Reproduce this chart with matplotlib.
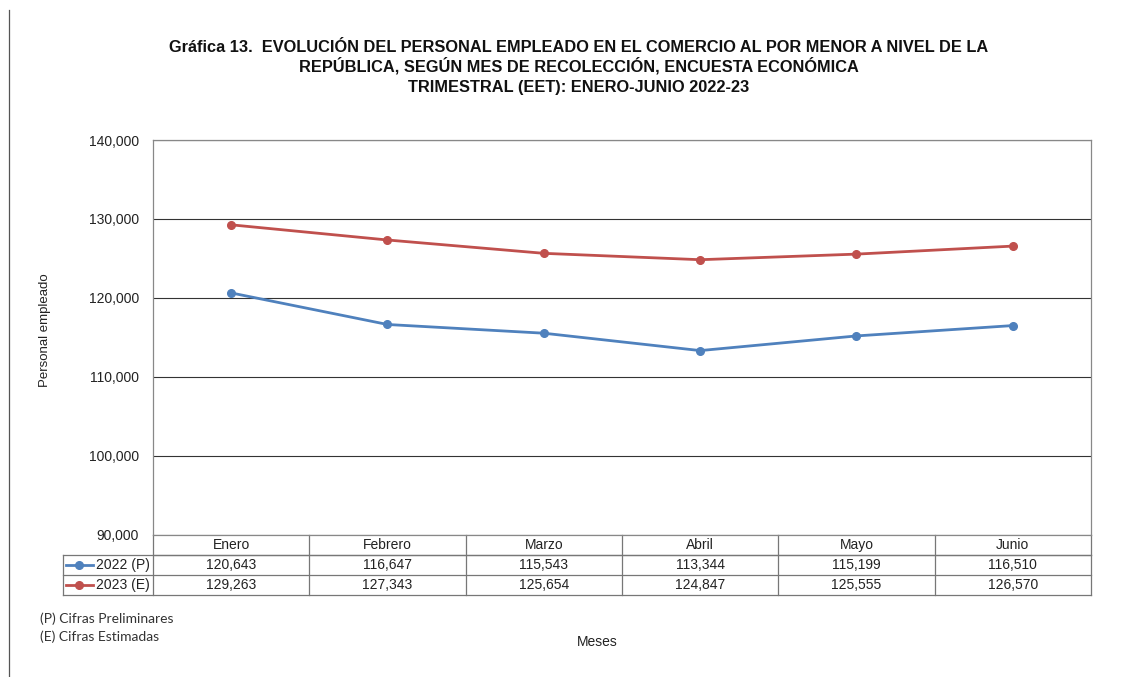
import numpy as np
import matplotlib
matplotlib.use('Agg')
import matplotlib.pyplot as plt
import matplotlib.transforms as mtransforms

plt.rcParams['font.family'] = ['Liberation Sans', 'DejaVu Sans']

months = ['Enero', 'Febrero', 'Marzo', 'Abril', 'Mayo', 'Junio']
values_2022 = [120643, 116647, 115543, 113344, 115199, 116510]
values_2023 = [129263, 127343, 125654, 124847, 125555, 126570]
series_names = ['2022 (P)', '2023 (E)']
series_colors = ['#4F81BD', '#C0504D']
y_ticks = [90000, 100000, 110000, 120000, 130000, 140000]
title_lines = ['Gráfica 13.  EVOLUCIÓN DEL PERSONAL EMPLEADO EN EL COMERCIO AL POR MENOR A NIVEL DE LA',
               'REPÚBLICA, SEGÚN MES DE RECOLECCIÓN, ENCUESTA ECONÓMICA',
               'TRIMESTRAL (EET): ENERO-JUNIO 2022-23']

W, H = 1127, 677
fig = plt.figure(figsize=(W / 100, H / 100), dpi=100)

ax_left, ax_right, ax_top, ax_bottom = 153, 1091, 140, 535
ax = fig.add_axes([ax_left / W, 1 - ax_bottom / H,
                   (ax_right - ax_left) / W, (ax_bottom - ax_top) / H])

x = np.arange(len(months))
for vals, col in zip([values_2022, values_2023], series_colors):
    ax.plot(x, vals, color=col, lw=2.0, marker='o', ms=5.5, zorder=3)

ax.set_xlim(-0.5, len(months) - 0.5)
ax.set_ylim(90000, 140000)
ax.set_yticks(y_ticks)
ax.set_yticklabels([f'{v:,}' for v in y_ticks], fontsize=10, color='#222222')
ax.set_xticks([])
ax.tick_params(axis='y', length=0, pad=10)
ax.yaxis.grid(True, color='#333333', lw=0.8)
ax.set_axisbelow(True)
for s in ax.spines.values():
    s.set_color('#888888')
    s.set_linewidth(0.9)

# data table under the axes
row_h = 20 / (ax_bottom - ax_top)
trans = mtransforms.blended_transform_factory(ax.transData, ax.transAxes)
unit_px = (ax_right - ax_left) / len(months)
leg_left = -0.5 - (ax_left - 63) / unit_px
line_kw = dict(color='#777777', lw=0.9, transform=trans, clip_on=False)

for i, m in enumerate(months):
    ax.text(i, -row_h / 2, m, ha='center', va='center', fontsize=10,
            transform=trans, color='#222222')
    for r, vals in enumerate([values_2022, values_2023]):
        ax.text(i, -row_h * (r + 1.5), f'{vals[i]:,}', ha='center', va='center',
                fontsize=10, transform=trans, color='#222222')

# horizontal lines
ax.plot([-0.5, 5.5], [-row_h, -row_h], **line_kw)
ax.plot([leg_left, 5.5], [-row_h, -row_h], **line_kw)
ax.plot([leg_left, 5.5], [-2 * row_h, -2 * row_h], **line_kw)
ax.plot([leg_left, 5.5], [-3 * row_h, -3 * row_h], **line_kw)
# vertical lines
for b in np.arange(-0.5, 6.0, 1.0):
    ax.plot([b, b], [0, -3 * row_h], **line_kw)
ax.plot([leg_left, leg_left], [-row_h, -3 * row_h], **line_kw)

# legend keys inside table
for r, (name, col) in enumerate(zip(series_names, series_colors)):
    yy = -row_h * (r + 1.5)
    x0 = leg_left + 3 / unit_px
    x1 = leg_left + 30 / unit_px
    ax.plot([x0, x1], [yy, yy], color=col, lw=2.0, transform=trans, clip_on=False)
    ax.plot([(x0 + x1) / 2], [yy], 'o', color=col, ms=5.5, transform=trans, clip_on=False)
    ax.text(-0.5 - 3 / unit_px, yy, name, ha='right', va='center', fontsize=10,
            transform=trans, color='#222222')

# title, one line at a time so spacing stays even
for k, line in enumerate(title_lines):
    fig.text(579 / W, 1 - (52 + 20 * k) / H, line, ha='center', va='baseline',
             fontsize=11.8, fontweight='bold', color='#111111')

fig.text(45 / W, 1 - 330 / H, 'Personal empleado', rotation=90, ha='center',
         va='center', fontsize=9.5, color='#222222')
fig.text(597 / W, 1 - 642 / H, 'Meses', ha='center', va='center', fontsize=10,
         color='#222222')
fig.text(40 / W, 1 - 619 / H, '(P) Cifras Preliminares', ha='left', va='center',
         fontsize=10, family=['Lato', 'DejaVu Sans'], color='#333333')
fig.text(40 / W, 1 - 637 / H, '(E) Cifras Estimadas', ha='left', va='center',
         fontsize=10, family=['Lato', 'DejaVu Sans'], color='#333333')

# left margin rule
fig.add_artist(plt.Line2D([9 / W, 9 / W], [0, 1 - 10 / H], color='#555555', lw=0.9))

fig.savefig('out.png', dpi=100)
